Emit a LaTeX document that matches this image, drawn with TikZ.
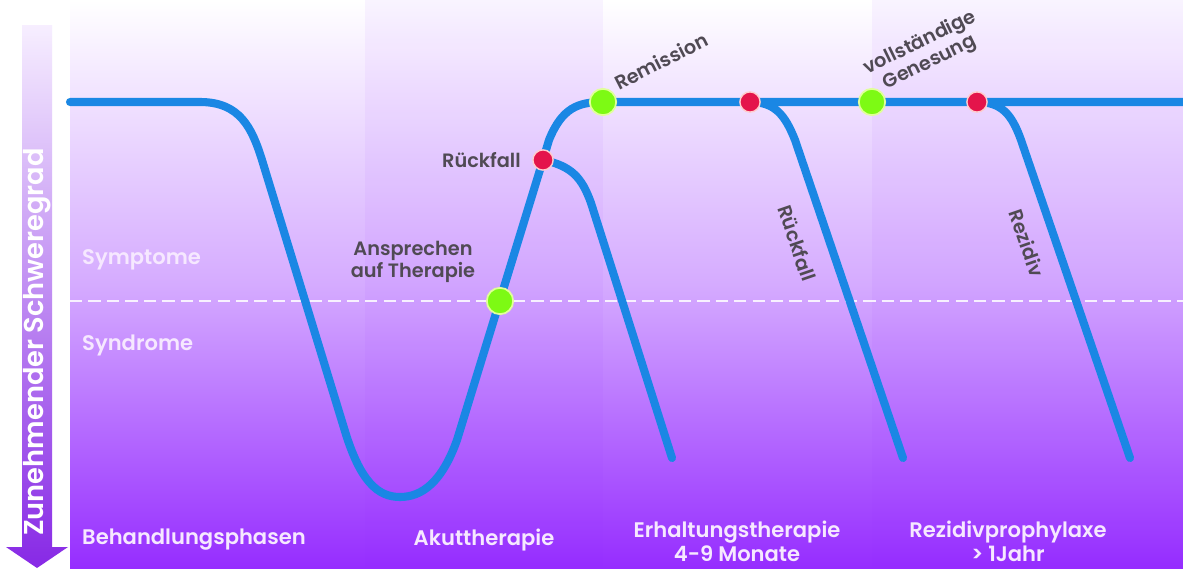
\documentclass[tikz,border=0pt]{standalone}
\usepackage{fontspec}
\setmainfont{Poppins}[BoldFont={Poppins SemiBold}]
\usepackage{tikz}
\usetikzlibrary{positioning, calc, shapes}

\definecolor{curveblue}{RGB}{26,135,228}
\definecolor{deeppurple}{RGB}{150,45,255}
\definecolor{dotred}{RGB}{228,20,75}
\definecolor{dotgreen}{RGB}{125,250,20}
\definecolor{labelgray}{RGB}{80,74,84}
\definecolor{lavender}{RGB}{246,232,255}

\begin{document}
\begin{tikzpicture}[
    x=0.02cm, y=-0.02cm,
    curveline/.style={draw=curveblue, line width=4.6pt, line cap=round, line join=round},
    gooddot/.style={circle, fill=dotgreen, draw=green!30!yellow!40, line width=1pt, minimum size=15pt, inner sep=0pt},
    baddot/.style={circle, fill=dotred, draw=red!20, line width=0.8pt, minimum size=11.5pt, inner sep=0pt},
    darklabel/.style={text=labelgray, font=\fontsize{11}{12.5}\selectfont\bfseries},
    whitelabel/.style={text=lavender, font=\fontsize{12}{13.5}\selectfont\bfseries},
]
\useasboundingbox (0,0) rectangle (1183,568);

% =========================================================
% 1. Background and phase bands
% =========================================================
\fill[white] (0,0) rectangle (1183,568);
\shade[top color=white, bottom color=deeppurple, middle color=deeppurple!40] (70,0) rectangle (1183,568);

% darker bands for Akuttherapie and Rezidivprophylaxe
\fill[deeppurple, opacity=0.05] (365,0) rectangle (603,568);
\fill[deeppurple, opacity=0.05] (872,0) rectangle (1183,568);

% Symptome / Syndrome border
\draw[white, opacity=0.85, line width=1.7pt, dash pattern=on 7pt off 3.5pt] (70,301) -- (1183,301);

% =========================================================
% 2. Severity arrow (left)
% =========================================================
\shade[top color=deeppurple!8, bottom color=deeppurple!90!black]
    (22,25) -- (52,25) -- (52,547) -- (68,547) -- (37,568) -- (6,547) -- (22,547) -- cycle;
\node[rotate=90, text=white, font=\fontsize{15.5}{17}\selectfont\bfseries] (severity) at (37,342) {Zunehmender Schweregrad};

% =========================================================
% 3. Course of the disease
% =========================================================
\coordinate (start) at (70,102);
\coordinate (stop) at (1183,102);
\coordinate (response) at (500,301);
\coordinate (relapse1) at (543,160);
\coordinate (remission) at (603,102);
\coordinate (relapse2) at (750,102);
\coordinate (recovery) at (872,102);
\coordinate (recur) at (977,102);

% main curve: down, bottom, up to remission
\draw[curveline] (start) -- (200,102) .. controls (240,102) and (252,128) .. (262,160)
    -- (344,428) .. controls (360,482) and (378,497) .. (400,497)
    .. controls (422,497) and (442,482) .. (457,440)
    -- (relapse1) -- (549,140) .. controls (562,108) and (578,102) .. (remission)
    -- (stop);

% Rueckfall during Akuttherapie
\draw[curveline] (relapse1) .. controls (572,166) and (582,178) .. (591,203) -- (672,458);

% Rueckfall during Erhaltungstherapie
\draw[curveline] (relapse2) .. controls (775,102) and (785,115) .. (795,140) -- (903,458);

% Rezidiv
\draw[curveline] (recur) .. controls (1002,102) and (1012,115) .. (1021,140) -- (1130,458);

% dots on top of the curve
\node[gooddot] (dotresponse) at (response) {};
\node[baddot] (dotrelapse1) at (relapse1) {};
\node[gooddot] (dotremission) at (remission) {};
\node[baddot] (dotrelapse2) at (relapse2) {};
\node[gooddot] (dotrecovery) at (recovery) {};
\node[baddot] (dotrecur) at (recur) {};

% =========================================================
% 4. Labels
% =========================================================
\node[darklabel, left=3pt of dotrelapse1] (lblrelapse1) {Rückfall};
\node[darklabel, align=center] (lblresponse) at (413,262) {Ansprechen\\auf Therapie};
\node[darklabel, rotate=27] (lblremission) at (661,61) {Remission};
\node[darklabel, rotate=26, align=center] (lblrecovery) at (925,53) {vollständige\\Genesung};
\node[darklabel, rotate=-71] (lblrelapse2) at (797,243) {Rückfall};
\node[darklabel, rotate=-71] (lblrecur) at (1027,243) {Rezidiv};

\node[whitelabel, anchor=west] (symptoms) at (76,260) {Symptome};
\node[whitelabel, anchor=west] (syndromes) at (76,345) {Syndrome};

% phases
\node[whitelabel, anchor=west] (phases) at (76,540) {Behandlungsphasen};
\node[whitelabel] (acute) at (484,540) {Akuttherapie};
\node[whitelabel, align=center] (maintenance) at (737,541) {Erhaltungstherapie\\4-9 Monate};
\node[whitelabel, align=center] (prophylaxis) at (1008,541) {Rezidivprophylaxe\\> 1Jahr};

\end{tikzpicture}
\end{document}
